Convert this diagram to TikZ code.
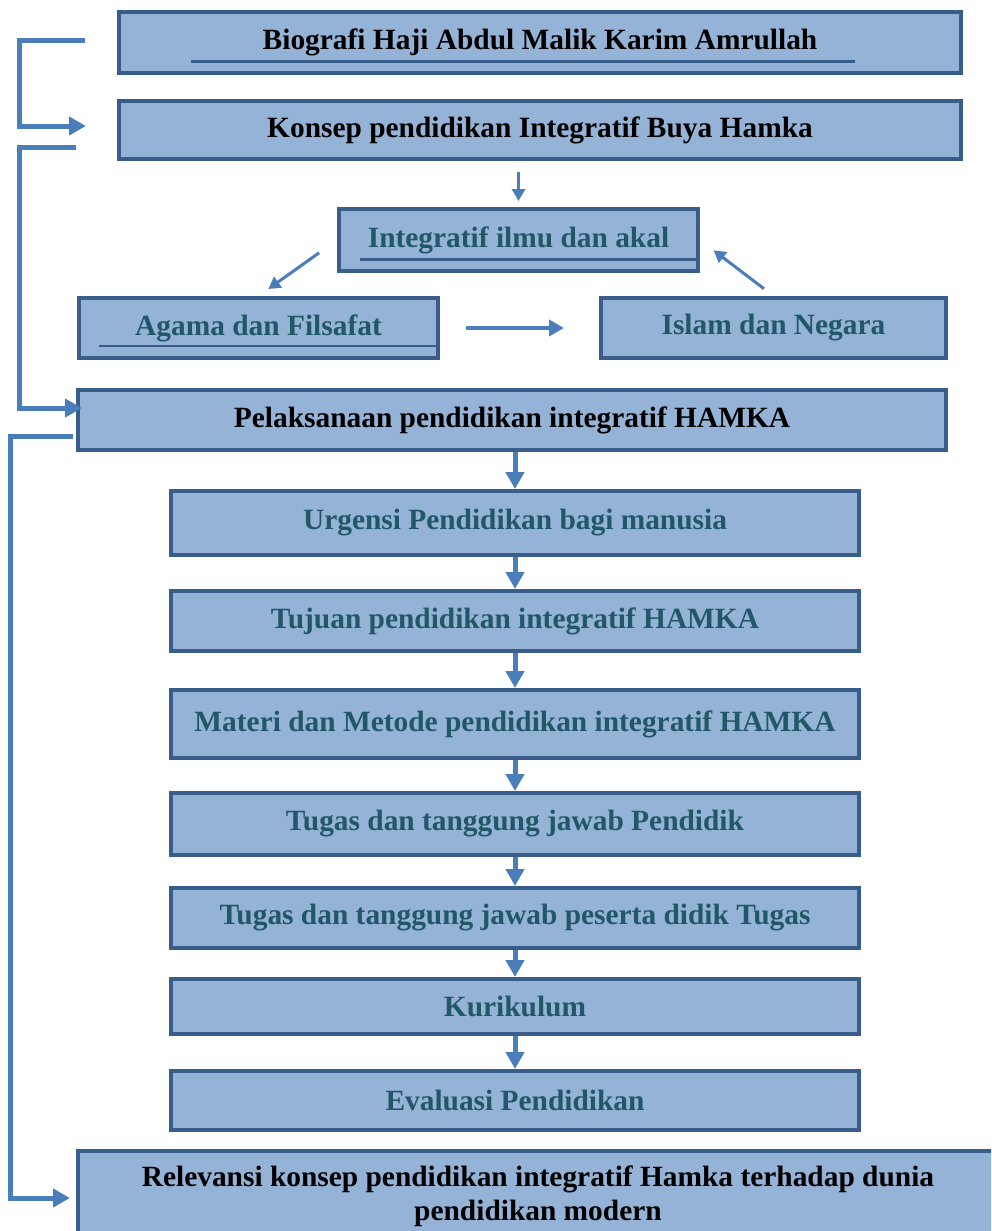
\documentclass[tikz,border=0pt]{standalone}
\usepackage{fontspec}
\setmainfont{Liberation Serif}
\usepackage{xcolor}
\usetikzlibrary{arrows.meta,positioning,calc}
\definecolor{isi}{HTML}{95B3D7}
\definecolor{tepi}{HTML}{385D8A}
\definecolor{biru}{HTML}{4A7EBB}
\definecolor{hijaubiru}{HTML}{215868}

\tikzset{
  kotak/.style={draw=tepi, fill=isi, line width=2pt, inner sep=0pt, align=center,
    font=\bfseries\fontsize{14.7}{17}\selectfont},
  kotakteal/.style={kotak, text=hijaubiru},
  panah/.style={draw=biru, line width=2.5pt, -{Triangle[length=8.5pt,width=9pt]}},
  panahtipis/.style={draw=biru, line width=1.5pt, -{Triangle[length=6pt,width=6.5pt]}},
  garis/.style={draw=tepi}
}

\begin{document}
\begin{tikzpicture}[x=0.5pt,y=-0.5pt]
\useasboundingbox (0,0) rectangle (991,1231);
\clip (0,0) rectangle (991,1231);

% Top boxes
\node[kotak, minimum width=421pt, minimum height=30.5pt] (bio) at (540,42.5) {Biografi Haji Abdul Malik Karim Amrullah};
\node[kotak, minimum width=421pt, minimum height=29pt] (konsep) at (540,130) {Konsep pendidikan Integratif Buya Hamka};

% Integratif triangle
\node[kotakteal, minimum width=179.5pt, minimum height=31pt] (integ) at (518.5,240) {Integratif ilmu dan akal};
\node[kotakteal, minimum width=179.5pt, minimum height=30pt] (agama) at (258.5,328) {Agama dan Filsafat};
\node[kotakteal, minimum width=172.5pt, minimum height=30pt] (islam) at (773.5,328) {Islam dan Negara};

% Underlines inside boxes
\draw[garis, line width=1.5pt] (191,61) -- (855,61);
\draw[garis, line width=1.5pt] (360,259) -- (698,259);
\draw[garis, line width=0.8pt] (99,346) -- (436,346);

\node[kotak, minimum width=434pt, minimum height=30pt] (pel) at (512,420) {Pelaksanaan pendidikan integratif HAMKA};

% Chain of boxes
\node[kotakteal, minimum width=344pt, minimum height=32pt] (urg) at (515,523) {Urgensi Pendidikan bagi manusia};
\node[kotakteal, minimum width=344pt, minimum height=30pt] (tuj) at (515,621) {Tujuan pendidikan integratif HAMKA};
\node[kotakteal, minimum width=344pt, minimum height=34pt] (mat) at (515,724) {Materi dan Metode pendidikan integratif HAMKA};
\node[kotakteal, minimum width=344pt, minimum height=31pt] (tug) at (515,824) {Tugas dan tanggung jawab Pendidik};
\node[kotakteal, minimum width=344pt, minimum height=30pt] (pes) at (515,918) {Tugas dan tanggung jawab peserta didik Tugas};
\node[kotakteal, minimum width=344pt, minimum height=27.5pt] (kur) at (515,1006.5) {Kurikulum};
\node[kotakteal, minimum width=344pt, minimum height=29.5pt] (eva) at (515,1100.5) {Evaluasi Pendidikan};

\node[kotak, minimum width=460pt, minimum height=45pt] (rel) at (538,1196) {Relevansi konsep pendidikan integratif Hamka terhadap dunia\\pendidikan modern};

% Arrows around the triangle
\draw[panahtipis, shorten <=5.5pt, shorten >=3pt] (konsep.south -| integ.north) -- (integ.north);
\draw[panahtipis, shorten <=11pt, shorten >=6pt] (integ.west) -- (agama.north);
\draw[panah, line width=2pt, -{Triangle[length=7.5pt,width=8pt]}, shorten <=13pt, shorten >=17.5pt] (agama.east) -- (islam.west);
\draw[panahtipis, shorten <=6pt, shorten >=8.5pt] (islam.north) -- (integ.east);

% Vertical chain
\draw[panah] (pel.south -| urg.north) -- (urg.north);
\foreach \a/\b in {urg/tuj, tuj/mat, mat/tug, tug/pes, pes/kur, kur/eva} {
    \draw[panah] (\a.south) -- (\b.north);
}

% Brackets on the left
\coordinate (awal1) at (85,40);
\coordinate (ujung1) at (86,126);
\coordinate (awal2) at (76,147);
\coordinate (ujung2) at (82,408);
\coordinate (awal3) at (73,436);
\coordinate (ujung3) at (70,1198);
\draw[panah] (awal1) -- ++(-66,0) |- (ujung1);
\draw[panah] (awal2) -- ++(-57,0) |- (ujung2);
\draw[panah] (awal3) -- ++(-63,0) |- (ujung3);

\end{tikzpicture}
\end{document}
